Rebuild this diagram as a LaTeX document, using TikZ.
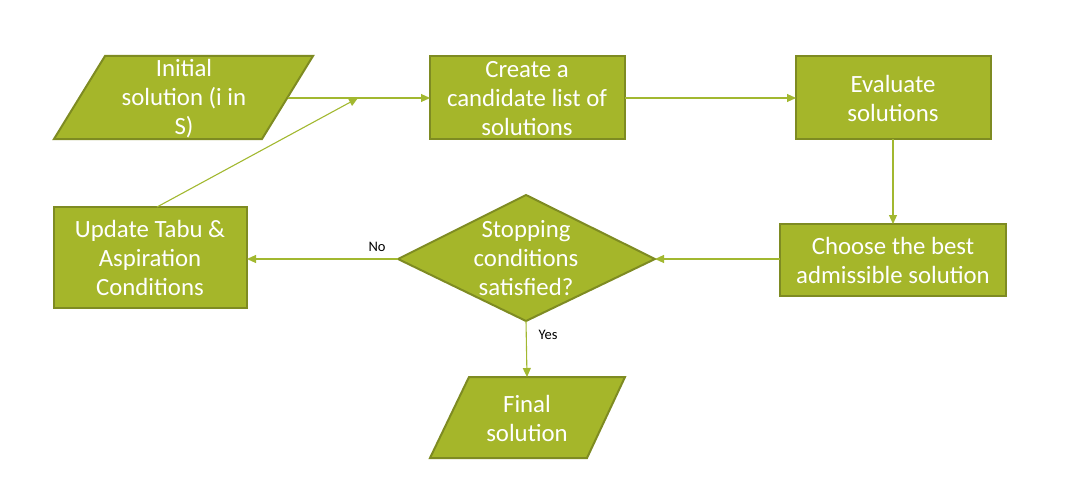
\documentclass[tikz,border=0pt]{standalone}
\usepackage{fontspec}
\setmainfont{Carlito}
\usetikzlibrary{arrows.meta}
\definecolor{boxfill}{HTML}{A5B62A}
\definecolor{boxline}{HTML}{7E8B22}
\definecolor{conn}{HTML}{A2B830}
\tikzset{
  shp/.style={fill=boxfill,draw=boxline,line width=2pt,line join=miter},
  txt/.style={text=white,align=center,font=\fontsize{24.8}{29}\selectfont,inner sep=0pt},
  lbl/.style={text=black,font=\fontsize{14.5}{16}\selectfont,inner sep=0pt},
  conn/.style={draw=conn,line width=1.1pt,-{Triangle[length=9pt,width=8pt]}}
}
\begin{document}
\begin{tikzpicture}[x=1pt,y=-1pt]
\useasboundingbox (0,0) rectangle (1071,487);
% shapes
\path[shp] (105,56) -- (313,56) -- (262,139) -- (54,139) -- cycle;
\path[shp] (430,56) rectangle (625,139);
\path[shp] (796,56) rectangle (991,139);
\path[shp] (780,224) rectangle (1006,296);
\path[shp] (398,259) -- (526,195) -- (655,259) -- (526,321) -- cycle;
\path[shp] (54,207) rectangle (247,308);
\path[shp] (469,377) -- (625,377) -- (587,458) -- (430,458) -- cycle;
% text nodes
\node[txt] (ini) at (184,99) {Initial\\solution (i in\\S)};
\node[txt] (cand) at (527,99) {Create a\\candidate list of\\solutions};
\node[txt] (eval) at (893,98) {Evaluate\\solutions};
\node[txt] (best) at (893,260) {Choose the best\\admissible solution};
\node[txt] (stop) at (526,258) {Stopping\\conditions\\satisfied?};
\node[txt] (upd) at (150,258) {Update Tabu \&\\Aspiration\\Conditions};
\node[txt] (fin) at (527,418) {Final\\solution};
% connection points
\coordinate (ini-e) at (288,98);
\coordinate (cand-w) at (430,98);
\coordinate (cand-e) at (625,98);
\coordinate (eval-w) at (796,98);
\coordinate (eval-s) at (893,139);
\coordinate (best-n) at (893,224);
\coordinate (best-w) at (780,259);
\coordinate (stop-e) at (655,259);
\coordinate (stop-w) at (398,259);
\coordinate (stop-s) at (526,321);
\coordinate (upd-e) at (247,259);
\coordinate (upd-n) at (157,207);
\coordinate (join) at (358,98);
\coordinate (fin-n) at (527,377);
% connectors
\draw[conn] (ini-e) -- (cand-w);
\draw[conn] (upd-n) -- (join);
\draw[conn] (cand-e) -- (eval-w);
\draw[conn] (eval-s) -- (best-n);
\draw[conn] (best-w) -- (stop-e);
\draw[conn] (stop-w) -- (upd-e);
\draw[conn] (stop-s) -- (fin-n);
% labels
\node[lbl] (no) at (377,247) {No};
\node[lbl] (yes) at (548,335) {Yes};
\end{tikzpicture}
\end{document}
